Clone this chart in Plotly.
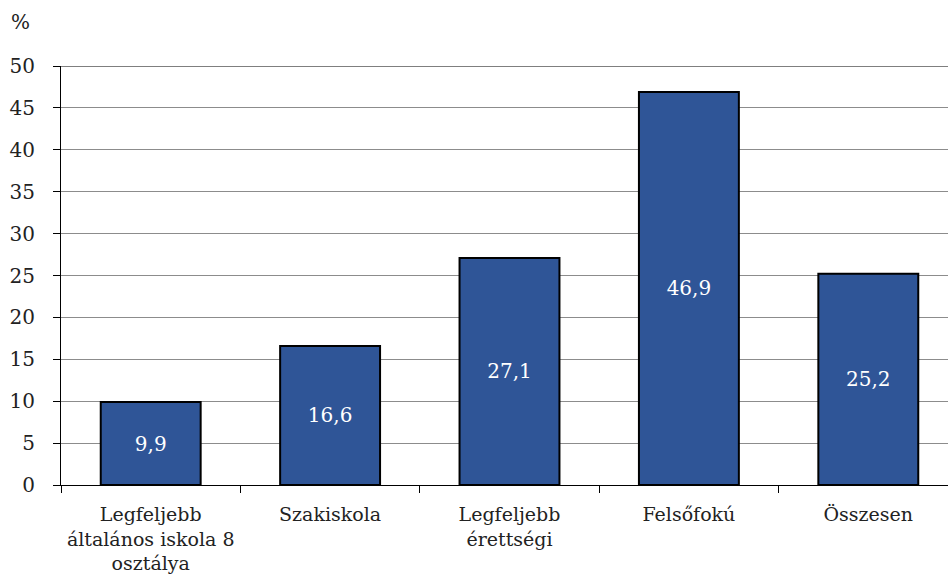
import plotly.graph_objects as go

# data
categories = ["Legfeljebb<br>általános iskola 8<br>osztálya", "Szakiskola",
              "Legfeljebb<br>érettségi", "Felsőfokú", "Összesen"]
values = [9.9, 16.6, 27.1, 46.9, 25.2]
labels = ["9,9", "16,6", "27,1", "46,9", "25,2"]
y_ticks = [0, 5, 10, 15, 20, 25, 30, 35, 40, 45, 50]

font_name = "'DejaVu Serif', serif"

fig = go.Figure()
fig.add_trace(go.Bar(
    x=categories, y=values, text=labels,
    textposition="inside", insidetextanchor="middle",
    textfont=dict(family=font_name, size=20, color="white"),
    marker=dict(color="#2F5597", line=dict(color="black", width=2)),
    cliponaxis=False,
))

# plot area runs slightly past the right edge of the window, like the original
fig.update_layout(
    width=958, height=586,
    margin=dict(l=61, r=0, t=66, b=101),
    plot_bgcolor="white", paper_bgcolor="white",
    bargap=0.443, showlegend=False,
    font=dict(family=font_name, size=19, color="#222"),
    uniformtext=dict(mode="show", minsize=20),
)
fig.update_yaxes(
    range=[0, 50], tickvals=y_ticks, showgrid=True, gridcolor="#8c8c8c", gridwidth=1,
    showline=True, linecolor="black", linewidth=1,
    ticks="outside", ticklen=7, tickcolor="black", ticklabelstandoff=14,
    tickfont=dict(size=20), zeroline=False, automargin=False,
)
fig.update_xaxes(
    showline=True, linecolor="black", linewidth=1, tickangle=0,
    ticks="outside", tickson="boundaries", ticklen=7, tickcolor="black",
    ticklabelstandoff=12, automargin=False,
)
# darker top gridline
fig.add_hline(y=50, line=dict(color="black", width=1))

fig.add_annotation(text="%", x=0, y=1, xref="paper", yref="paper", showarrow=False,
                   xshift=-41, yshift=44, xanchor="center", yanchor="middle",
                   font=dict(size=20))

# page has a default body margin; remove it so the figure sits at the window corner
fig.write_html("out.html", config={"displayModeBar": False},
               post_script="document.body.style.margin='0';document.body.style.overflow='hidden';")
